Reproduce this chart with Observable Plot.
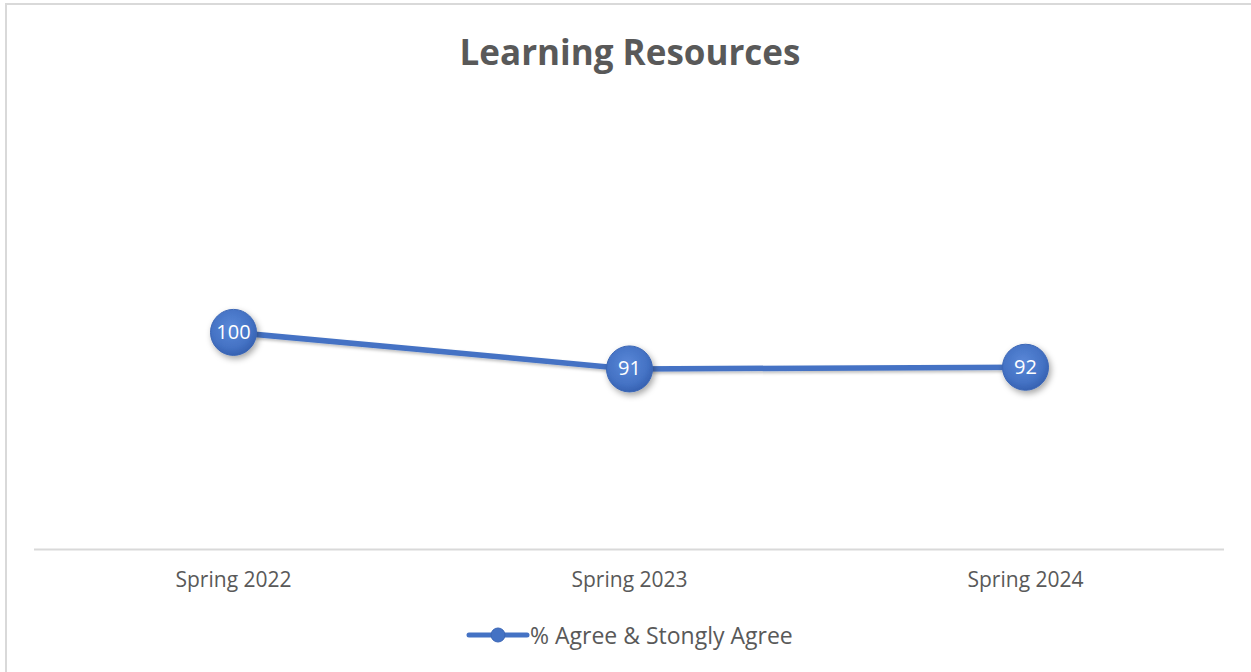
<!DOCTYPE html>
<html><head><meta charset="utf-8">
<script src="https://cdn.jsdelivr.net/npm/d3@7"></script>
<script src="https://cdn.jsdelivr.net/npm/@observablehq/plot@0.6"></script>
<style>
html,body{margin:0;padding:0;background:#fff;}
body{width:1251px;height:672px;position:relative;overflow:hidden;font-family:"Open Sans",sans-serif;color:#595959;}
#frame{position:absolute;left:5px;top:3px;width:1300px;height:720px;border:2px solid #d9d9d9;box-sizing:border-box;}
#title{position:absolute;left:0;top:32px;width:1260px;text-align:center;font-size:35px;font-weight:700;line-height:40px;color:#595959;}
#chart{position:absolute;left:0;top:100px;}
#legend{position:absolute;left:466px;top:620px;display:flex;align-items:center;font-size:23px;line-height:30px;color:#595959;}
</style></head>
<body>
<div id="frame"></div>
<div id="title">Learning Resources</div>
<div id="chart"></div>
<div id="legend"></div>
<script>
const seasons = ["Spring 2022", "Spring 2023", "Spring 2024"];
const agree = [100, 91.3, 91.7];
const seriesName = "% Agree & Stongly Agree";
const yDomain = [48.3, 119.5];

const data = seasons.map((s, i) => ({season: s, value: agree[i]}));
const fmt = d3.format(".0f");

const chart = Plot.plot({
  width: 1251, height: 510,
  marginLeft: 34, marginRight: 27, marginTop: 150, marginBottom: 61,
  x: {type: "point", domain: seasons, padding: 0.5, axis: null, label: null},
  y: {domain: yDomain, axis: null, label: null},
  style: {fontFamily: "'Open Sans', sans-serif", background: "transparent", overflow: "visible"},
  marks: [
    Plot.ruleY([yDomain[0]], {stroke: "#d9d9d9", strokeWidth: 2}),
    Plot.axisX({tickSize: 0, tickPadding: 23, fontSize: 21, fill: "#595959", label: null}),
    Plot.line(data, {x: "season", y: "value", stroke: "#4472C4", strokeWidth: 5.5}),
    Plot.dot(data, {x: "season", y: "value", r: 23, fill: "#4472C4", stroke: "#3b66b5", strokeWidth: 1}),
    Plot.text(data, {x: "season", y: "value", text: d => fmt(d.value), fill: "white", fontSize: 20})
  ]
});
document.getElementById("chart").appendChild(chart);

const svg = d3.select(chart);
const defs = svg.insert("defs", ":first-child");
const grad = defs.append("radialGradient").attr("id", "bubble").attr("cx", "45%").attr("cy", "40%").attr("r", "62%");
grad.append("stop").attr("offset", "0%").attr("stop-color", "#5a88d8");
grad.append("stop").attr("offset", "70%").attr("stop-color", "#4472C4");
grad.append("stop").attr("offset", "100%").attr("stop-color", "#3560b0");
const sh = defs.append("filter").attr("id", "shadow").attr("x", "-50%").attr("y", "-50%").attr("width", "200%").attr("height", "200%");
sh.append("feDropShadow").attr("dx", 2).attr("dy", 3).attr("stdDeviation", 3).attr("flood-color", "#000").attr("flood-opacity", 0.35);
const sh2 = defs.append("filter").attr("id", "lshadow").attr("x", "-10%").attr("y", "-50%").attr("width", "120%").attr("height", "200%");
sh2.append("feDropShadow").attr("dx", 1).attr("dy", 2).attr("stdDeviation", 1.5).attr("flood-color", "#000").attr("flood-opacity", 0.25);
svg.selectAll("g[aria-label=dot] circle").attr("fill", "url(#bubble)").attr("filter", "url(#shadow)");
svg.selectAll("g[aria-label=line] path").attr("filter", "url(#lshadow)");

// legend
const leg = d3.select("#legend");
const sw = leg.append("svg").attr("width", 64).attr("height", 20);
sw.append("line").attr("x1", 3).attr("x2", 61).attr("y1", 10).attr("y2", 10)
  .attr("stroke", "#4472C4").attr("stroke-width", 5).attr("stroke-linecap", "round");
sw.append("circle").attr("cx", 32).attr("cy", 10).attr("r", 7).attr("fill", "#4472C4").attr("stroke", "#3b66b5");
leg.append("span").text(seriesName);
</script>
</body></html>
